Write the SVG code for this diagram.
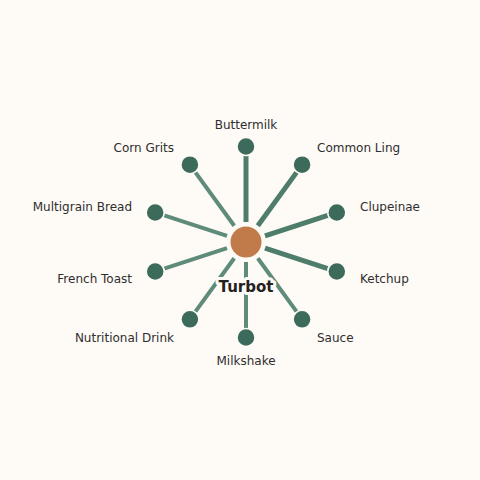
<svg xmlns="http://www.w3.org/2000/svg" width="480" height="480" viewBox="0 0 480 480">
<style>
.bg{fill:#fefaf6}
.e{stroke-linecap:butt;fill:none}
.e1{stroke:#4f7d6c;stroke-width:5}
.e2{stroke:#5e8b7a;stroke-width:4}
.n{fill:#3d6b5b;stroke:#fefaf6;stroke-width:1.5}
.c{fill:#c17b4a;stroke:#fefaf6;stroke-width:2}
.l{font-family:"DejaVu Sans",sans-serif;font-size:12px;fill:#2e2e2e}
.t{font-family:"DejaVu Sans",sans-serif;font-size:15px;font-weight:bold;fill:#222;stroke:#fefaf6;stroke-width:6;paint-order:stroke;stroke-linejoin:round}
</style>
<rect class="bg" x="0" y="0" width="480" height="480"/>
<g id="connectors">
<line class="e e1" x1="246" y1="222" x2="246" y2="156"/>
<line class="e e1" x1="257.8" y1="225.8" x2="296.6" y2="172.4"/>
<line class="e e1" x1="265" y1="235.8" x2="327.8" y2="215.4"/>
<line class="e e1" x1="265" y1="248.2" x2="327.8" y2="268.6"/>
<line class="e e2" x1="257.8" y1="258.2" x2="296.6" y2="311.6"/>
<line class="e e2" x1="246" y1="262" x2="246" y2="328"/>
<line class="e e2" x1="234.2" y1="258.2" x2="195.4" y2="311.6"/>
<line class="e e2" x1="227" y1="248.2" x2="164.2" y2="268.6"/>
<line class="e e2" x1="227" y1="235.8" x2="164.2" y2="215.4"/>
<line class="e e2" x1="234.2" y1="225.8" x2="195.4" y2="172.4"/>
</g>
<g id="buttermilk"><circle class="n" cx="246" cy="146.5" r="9"/><text class="l" x="246" y="128.5" text-anchor="middle">Buttermilk</text></g>
<g id="common-ling"><circle class="n" cx="302.1" cy="164.7" r="9"/><text class="l" x="317" y="151.5">Common Ling</text></g>
<g id="clupeinae"><circle class="n" cx="336.8" cy="212.5" r="9"/><text class="l" x="360" y="210.5">Clupeinae</text></g>
<g id="ketchup"><circle class="n" cx="336.8" cy="271.5" r="9"/><text class="l" x="360" y="282.5">Ketchup</text></g>
<g id="sauce"><circle class="n" cx="302.1" cy="319.3" r="9"/><text class="l" x="317" y="341.5">Sauce</text></g>
<g id="milkshake"><circle class="n" cx="246" cy="337.5" r="9"/><text class="l" x="246" y="364.5" text-anchor="middle">Milkshake</text></g>
<g id="nutritional-drink"><circle class="n" cx="189.9" cy="319.3" r="9"/><text class="l" x="174" y="341.5" text-anchor="end">Nutritional Drink</text></g>
<g id="french-toast"><circle class="n" cx="155.2" cy="271.5" r="9"/><text class="l" x="132" y="282.5" text-anchor="end">French Toast</text></g>
<g id="multigrain-bread"><circle class="n" cx="155.2" cy="212.5" r="9"/><text class="l" x="132" y="210.5" text-anchor="end">Multigrain Bread</text></g>
<g id="corn-grits"><circle class="n" cx="189.9" cy="164.7" r="9"/><text class="l" x="174" y="151.5" text-anchor="end">Corn Grits</text></g>
<g id="turbot"><circle class="c" cx="246" cy="242" r="16.5"/><text class="t" x="246" y="291.5" text-anchor="middle">Turbot</text></g>
</svg>
